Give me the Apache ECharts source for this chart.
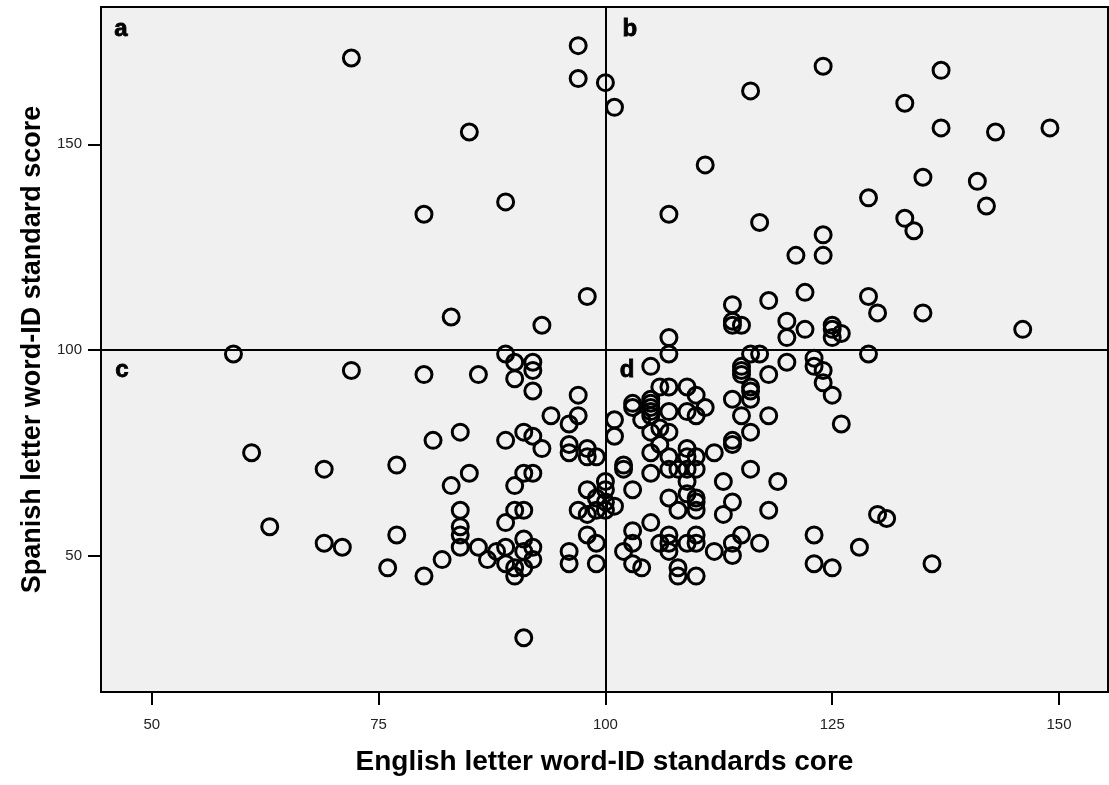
<!DOCTYPE html>
<html>
<head>
<meta charset="utf-8">
<script src="https://cdn.jsdelivr.net/npm/echarts@6/dist/echarts.min.js"></script>
<style>
html,body{margin:0;padding:0;background:#fff;}
#chart{width:1109px;height:785px;}
</style>
</head>
<body>
<div id="chart"></div>
<script>
// English letter word-ID standard score (x) and Spanish letter word-ID standard score (y)
var englishScores = [
  72,97,97,100,101,85,80,89,98,83,93,
  124,137,116,133,137,143,149,111,135,141,129,142,107,117,133,134,124,121,124,122,118,129,114,130,135,114,114,115,120,122,120,125,125,125,126,146,107,
  129,107,116,117,105,
  59,72,80,86,89,90,92,92,90,92,97,94,97,96,101,101,84,81,89,91,92,93,96,96,98,98,99,61,69,77,85,83,90,91,92,100,100,98,99,100,84,90,91,89,97,98,99,100,101,63,84,84,77,84,69,71,86,87,82,76,80,88,89,89,90,90,91,91,91,92,92,96,96,98,99,99,91,
  123,123,124,124,125,126,120,115,115,115,118,116,116,116,114,115,118,116,114,114,112,116,119,113,114,113,118,130,131,123,128,123,125,136,117,115,114,114,112,110,108,108,104,103,102,103,103,105,107,107,107,106,110,110,109,108,110,110,110,109,107,103,105,102,102,103,103,104,105,105,105,105,105,106,107,109,110,111,109,110,107,106,107,105,106,105,107,109,109,110,107,108,109,110,109
];
var spanishScores = [
  171,174,166,165,159,153,133,136,113,108,106,
  169,168,163,160,154,153,154,145,142,141,137,135,133,131,132,129,128,123,123,114,112,113,111,109,109,107,106,106,107,105,103,106,105,103,104,105,103,
  99,99,99,99,96,
  99,95,94,94,99,97,97,95,93,90,89,84,84,82,83,79,80,78,78,80,79,76,77,75,76,74,74,75,71,72,70,67,67,70,70,68,66,66,64,63,61,61,61,58,61,60,61,61,62,57,57,55,55,52,53,52,52,49,49,47,45,51,52,48,47,45,47,54,51,52,49,51,48,55,53,48,30,
  98,96,95,92,89,82,97,96,95,94,94,91,90,88,88,84,84,80,78,77,75,71,68,68,63,60,61,60,59,55,52,48,47,48,53,55,53,50,51,45,45,47,47,48,51,53,56,58,55,53,51,53,55,53,53,61,61,63,64,65,64,66,70,72,71,87,86,83,88,87,86,85,84,91,91,91,89,86,85,84,85,81,80,80,77,75,74,76,74,74,71,71,71,71,68
];
var xTickValues = [50, 75, 100, 125, 150];
var yTickValues = [50, 100, 150];
var quadrantLetters = ['a', 'b', 'c', 'd'];
var quadrantLetterX = [46.6, 102.7, 46.7, 102.4];
var quadrantLetterY = [177.9, 177.9, 95.1, 95.1];
var cutoffEnglish = 100;
var cutoffSpanish = 100;

var points = englishScores.map(function (x, i) { return [x, spanishScores[i]]; });
var letters = quadrantLetters.map(function (t, i) {
  return { name: t, value: [quadrantLetterX[i], quadrantLetterY[i]] };
});

var chart = echarts.init(document.getElementById('chart'), null, { renderer: 'canvas' });
var FONT = '"Liberation Sans", Arial, sans-serif';
chart.setOption({
  animation: false,
  backgroundColor: '#ffffff',
  grid: {
    left: 101, right: 1, top: 7, bottom: 93,
    show: true, backgroundColor: '#f0f0f0', borderColor: '#000', borderWidth: 2,
    outerBoundsMode: 'none'
  },
  xAxis: {
    type: 'value', min: 44.4, max: 155.4,
    name: 'English letter word-ID standards core',
    nameLocation: 'middle', nameGap: 56,
    nameTextStyle: { fontFamily: FONT, fontWeight: 'bold', fontSize: 28, color: '#000' },
    splitLine: { show: false },
    axisLine: { show: true, lineStyle: { color: '#000', width: 2 } },
    axisTick: { show: true, length: 13, customValues: xTickValues, lineStyle: { color: '#000', width: 2 } },
    axisLabel: { customValues: xTickValues, margin: 25, fontFamily: FONT, fontSize: 15, color: '#222' }
  },
  yAxis: {
    type: 'value', min: 16.8, max: 183.4,
    name: 'Spanish letter word-ID standard score',
    nameLocation: 'middle', nameGap: 55,
    nameTextStyle: { fontFamily: FONT, fontWeight: 'bold', fontSize: 27, color: '#000' },
    splitLine: { show: false },
    axisLine: { show: true, lineStyle: { color: '#000', width: 2 } },
    axisTick: { show: true, length: 13, customValues: yTickValues, lineStyle: { color: '#000', width: 2 } },
    axisLabel: { customValues: yTickValues, margin: 19, fontFamily: FONT, fontSize: 15, color: '#222' }
  },
  series: [
    {
      type: 'scatter',
      data: points,
      symbol: 'circle',
      symbolSize: 16,
      itemStyle: { color: 'rgba(0,0,0,0)', borderColor: '#000', borderWidth: 3, opacity: 1 },
      markLine: {
        silent: true,
        symbol: ['none', 'none'],
        label: { show: false },
        lineStyle: { color: '#000', width: 2, type: 'solid' },
        data: [{ xAxis: cutoffEnglish }, { yAxis: cutoffSpanish }]
      },
      z: 3
    },
    {
      type: 'scatter',
      data: letters,
      symbolSize: 1,
      itemStyle: { color: 'rgba(0,0,0,0)' },
      label: {
        show: true, position: 'inside',
        formatter: function (p) { return p.name; },
        fontFamily: FONT, fontWeight: 'bold', fontSize: 24, color: '#000',
        textBorderColor: '#000', textBorderWidth: 0.8, opacity: 1
      },
      silent: true,
      z: 4
    }
  ]
});
</script>
</body>
</html>
